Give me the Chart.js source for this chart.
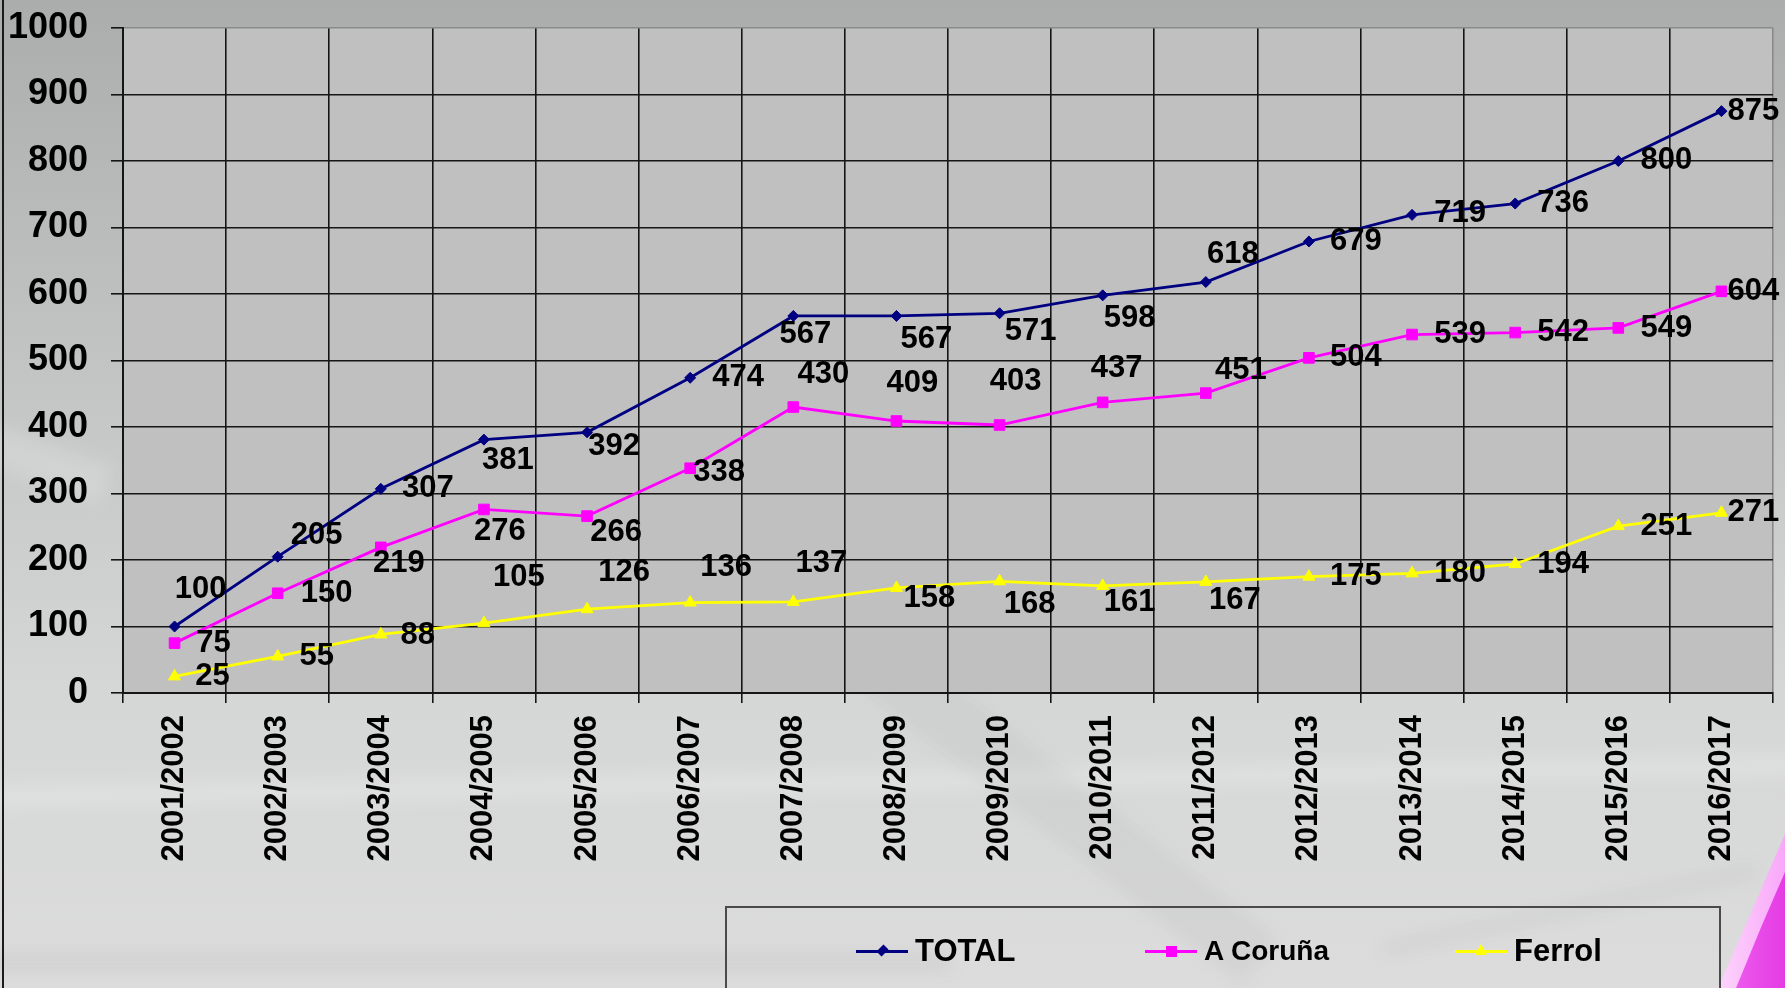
<!DOCTYPE html>
<html>
<head>
<meta charset="utf-8">
<title>TOTAL / A Coruña / Ferrol</title>
<script src="https://cdn.jsdelivr.net/npm/chart.js@4.4.1/dist/chart.umd.min.js"></script>
<style>
  html, body { margin: 0; padding: 0; }
  body {
    width: 1785px; height: 988px; overflow: hidden; position: relative;
    background: linear-gradient(180deg, #abadad 0%, #b8baba 20%, #c7c9c9 45%, #d5d6d6 70%, #dcdcdc 100%);
    font-family: "Liberation Sans", Arial, sans-serif;
  }
  .streak { position: absolute; filter: blur(8px); pointer-events: none; }
  .edge { position: absolute; left: 2px; top: 0; width: 2px; height: 988px; background: #1a1a1a; }
  .swoosh { position: absolute; left: 1700px; top: 820px; width: 85px; height: 168px; }
  .swoosh.outer { background: linear-gradient(90deg, #fde0fd, #f9a8f9); clip-path: polygon(18px 168px, 50px 95px, 85px 14px, 85px 168px); }
  .swoosh.inner { background: linear-gradient(90deg, #f36cf3, #e43ce4); clip-path: polygon(36px 168px, 62px 105px, 85px 52px, 85px 168px); }
  #wrap { position: absolute; left: 0; top: 0; width: 1785px; height: 988px; }
  #legend {
    position: absolute; left: 725px; top: 906px; width: 996px; height: 100px;
    border: 2px solid #4a4a4a; box-sizing: border-box;
  }
  .lg-item { position: absolute; top: 43px; height: 0; }
  .lg-line { position: absolute; top: -1px; width: 52px; height: 3px; }
  .lg-mark { position: absolute; }
  .lg-text { position: absolute; left: 59px; top: -19px; line-height: 38px; color: #000; white-space: nowrap; }
</style>
</head>
<body>
<div class="streak" style="left:-50px; top:770px; width:1900px; height:22px; background:rgba(255,255,255,0.18); transform:rotate(-1deg);"></div>
<div class="streak" style="left:-50px; top:955px; width:1000px; height:14px; background:rgba(120,120,120,0.10);"></div>
<div class="streak" style="left:760px; top:760px; width:560px; height:60px; background:rgba(110,110,110,0.07); transform:rotate(38deg);"></div>
<div class="streak" style="left:1380px; top:905px; width:380px; height:10px; background:rgba(110,110,110,0.10); transform:rotate(-12deg);"></div>
<div class="streak" style="left:-40px; top:440px; width:150px; height:40px; background:rgba(255,255,255,0.16); transform:rotate(20deg);"></div>
<div class="swoosh outer"></div>
<div class="swoosh inner"></div>
<div class="edge"></div>
<div id="wrap"><canvas id="myChart" width="1785" height="988"></canvas></div>
<div id="legend"></div>
<script>
'use strict';

// chart data
let seasons = ['2001/2002', '2002/2003', '2003/2004', '2004/2005', '2005/2006', '2006/2007',
  '2007/2008', '2008/2009', '2009/2010', '2010/2011', '2011/2012', '2012/2013',
  '2013/2014', '2014/2015', '2015/2016', '2016/2017'];
let seriesNames = ['TOTAL', 'A Coruña', 'Ferrol'];
let totalValues = [100, 205, 307, 381, 392, 474, 567, 567, 571, 598, 618, 679, 719, 736, 800, 875];
let corunaValues = [75, 150, 219, 276, 266, 338, 430, 409, 403, 437, 451, 504, 539, 542, 549, 604];
let ferrolValues = [25, 55, 88, 105, 126, 136, 137, 158, 168, 161, 167, 175, 180, 194, 251, 271];
let yTicks = [0, 100, 200, 300, 400, 500, 600, 700, 800, 900, 1000];

// where each value label sits, relative to its point (px)
let totalLabelPos = [[26, -37], [39, -21], [47, 0], [24, 21], [27, 14], [48, 0], [12, 19], [30, 24],
  [31, 18], [27, 23], [27, -28], [47, 0], [48, -1], [48, 0], [48, -1], [32, 0]];
let corunaLabelPos = [[39, 0], [49, 0], [18, 16], [16, 22], [29, 16], [29, 4], [30, -33], [16, -38],
  [16, -44], [14, -34], [35, -23], [47, 0], [48, 0], [48, 0], [48, 1], [32, 0]];
let ferrolLabelPos = [[38, 0], [39, 0], [37, 1], [35, -46], [37, -37], [36, -35], [28, -38], [33, 11],
  [30, 23], [27, 17], [29, 19], [47, 0], [48, 0], [48, 0], [48, 0], [32, 0]];

let colors = ['#000080', '#ff00ff', '#ffff00'];
let pointStyles = ['rectRot', 'rect', 'triangle'];
let pointSizes = [5.5, 7.5, 7];
let font = '"Liberation Sans", Arial, sans-serif';

// grey plot area
let plotBg = {
  id: 'plotBg',
  beforeDraw(chart) {
    let a = chart.chartArea;
    let ctx = chart.ctx;
    ctx.save();
    ctx.fillStyle = '#c0c0c0';
    ctx.fillRect(a.left, a.top, a.right - a.left, a.bottom - a.top);
    ctx.restore();
  }
};

// value labels next to each point
let valueLabels = {
  id: 'valueLabels',
  afterDatasetsDraw(chart) {
    let ctx = chart.ctx;
    let allPos = [totalLabelPos, corunaLabelPos, ferrolLabelPos];
    ctx.save();
    ctx.font = 'bold 31px ' + font;
    ctx.fillStyle = '#000';
    ctx.textAlign = 'center';
    ctx.textBaseline = 'middle';
    chart.data.datasets.forEach((ds, d) => {
      let meta = chart.getDatasetMeta(d);
      meta.data.forEach((pt, i) => {
        ctx.fillText(String(ds.data[i]), pt.x + allPos[d][i][0], pt.y + allPos[d][i][1]);
      });
    });
    ctx.restore();
  }
};

let seriesData = [totalValues, corunaValues, ferrolValues];

let ctx = document.getElementById('myChart').getContext('2d');
let myChart = new Chart(ctx, { //eslint-disable-line
  type: 'line',
  data: {
    labels: seasons,
    datasets: seriesNames.map((name, d) => ({
      label: name,
      data: seriesData[d],
      borderColor: colors[d],
      backgroundColor: colors[d],
      borderWidth: 2.8,
      tension: 0,
      fill: false,
      pointStyle: pointStyles[d],
      pointRadius: pointSizes[d],
      pointBorderWidth: 1,
      pointBorderColor: colors[d],
      pointBackgroundColor: colors[d]
    }))
  },
  options: {
    responsive: false,
    animation: false,
    layout: { padding: { top: 28, right: 12, left: 0, bottom: 0 } },
    plugins: {
      legend: { display: false },
      tooltip: { enabled: false }
    },
    scales: {
      x: {
        offset: true,
        grid: {
          offset: true,
          color: c => (c.type === 'tick' ? '#151515' : '#8a8a8a'),
          tickColor: '#151515',
          lineWidth: 1.6,
          tickLength: 10
        },
        border: { color: '#151515', width: 2 },
        ticks: {
          minRotation: 90,
          maxRotation: 90,
          autoSkip: false,
          padding: 12,
          color: '#000',
          font: { family: font, size: 31, weight: 'bold' }
        },
        afterFit(scale) { scale.height = 988 - 693; }
      },
      y: {
        min: yTicks[0],
        max: yTicks[yTicks.length - 1],
        afterBuildTicks(scale) { scale.ticks = yTicks.map(v => ({ value: v })); },
        grid: {
          color: c => (c.tick && c.tick.value === 1000 ? '#8a8a8a' : '#151515'),
          tickColor: '#151515',
          lineWidth: 1.6,
          tickLength: 12
        },
        border: { color: '#151515', width: 2 },
        ticks: {
          padding: 23,
          color: '#000',
          font: { family: font, size: 36, weight: 'bold' },
          callback: v => String(v)
        },
        afterFit(scale) {
          scale.width = 123;
          scale.paddingTop = 0;
          scale.paddingBottom = 0;
        }
      }
    }
  },
  plugins: [plotBg, valueLabels]
});

// legend box (html)
let legendLeft = [129, 418, 728];
let legendFont = ['bold 31px', 'bold 28px', 'bold 31px'];
let legend = document.getElementById('legend');
seriesNames.forEach((name, d) => {
  let item = document.createElement('div');
  item.className = 'lg-item';
  item.style.left = legendLeft[d] + 'px';

  let line = document.createElement('div');
  line.className = 'lg-line';
  line.style.background = colors[d];
  item.appendChild(line);

  let mark = document.createElement('div');
  mark.className = 'lg-mark';
  if (d === 0) {
    mark.style.cssText = 'left:22px;top:-5px;width:9px;height:9px;background:' + colors[d] + ';transform:rotate(45deg) scale(0.8,1.1);';
  } else if (d === 1) {
    mark.style.cssText = 'left:21px;top:-5px;width:11px;height:11px;background:' + colors[d] + ';';
  } else {
    mark.style.cssText = 'left:20px;top:-7px;width:0;height:0;border-left:6px solid transparent;border-right:6px solid transparent;border-bottom:11px solid ' + colors[d] + ';';
  }
  item.appendChild(mark);

  let text = document.createElement('div');
  text.className = 'lg-text';
  text.style.font = legendFont[d] + ' ' + font;
  text.style.lineHeight = '38px';
  text.textContent = name;
  item.appendChild(text);

  legend.appendChild(item);
});
</script>
</body>
</html>
